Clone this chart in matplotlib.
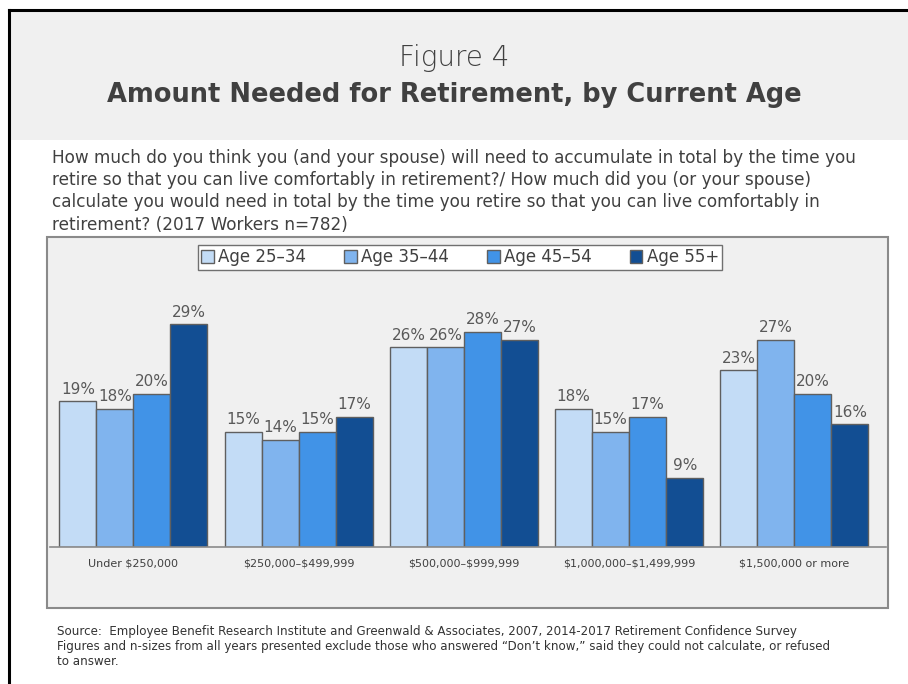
import matplotlib
matplotlib.use("Agg")
import matplotlib.pyplot as plt
from matplotlib.patches import Rectangle
from matplotlib.lines import Line2D
import numpy as np

categories = ["Under $250,000", "$250,000\u2013$499,999", "$500,000\u2013$999,999",
              "$1,000,000\u2013$1,499,999", "$1,500,000 or more"]
series_names = ["Age 25\u201334", "Age 35\u201344", "Age 45\u201354", "Age 55+"]
age_25_34 = [19, 15, 26, 18, 23]
age_35_44 = [18, 14, 26, 15, 27]
age_45_54 = [20, 15, 28, 17, 20]
age_55_plus = [29, 17, 27, 9, 16]
series_values = [age_25_34, age_35_44, age_45_54, age_55_plus]
colors = ["#c3dcf6", "#80b4ee", "#4193e7", "#124e93"]

plt.rcParams['font.family'] = ['DejaVu Sans']
W, H = 908, 684
fig = plt.figure(figsize=(W / 100, H / 100), dpi=100)

def fx(px):
    return px / W

def fy(py):
    return 1 - py / H

# header band
fig.patches.append(Rectangle((fx(9), fy(140)), 1 - fx(9), fy(10) - fy(140),
                             transform=fig.transFigure, facecolor="#f0f0f0",
                             edgecolor="none", zorder=-2))
# black border top and left
fig.lines.append(Line2D([fx(9), 1], [fy(10), fy(10)], transform=fig.transFigure,
                        color="black", lw=2.2, zorder=-1))
fig.lines.append(Line2D([fx(9), fx(9)], [fy(10), 0], transform=fig.transFigure,
                        color="black", lw=2.2, zorder=-1))

fig.text(0.5, fy(58), "Figure 4", ha="center", va="center", fontsize=20,
         color="#404040", fontweight="light")
fig.text(0.5, fy(95), "Amount Needed for Retirement, by Current Age", ha="center",
         va="center", fontsize=18.5, color="#404040", fontweight="bold")

question = ("How much do you think you (and your spouse) will need to accumulate in total by the time you\n"
            "retire so that you can live comfortably in retirement?/ How much did you (or your spouse)\n"
            "calculate you would need in total by the time you retire so that you can live comfortably in\n"
            "retirement? (2017 Workers n=782)")
fig.text(fx(52), fy(149), question, ha="left", va="top", fontsize=12.2,
         color="#404040", linespacing=1.30)

# chart box
fig.patches.append(Rectangle((fx(47), fy(608)), fx(888) - fx(47), fy(237) - fy(608),
                             transform=fig.transFigure, facecolor="#f0f0f0",
                             edgecolor="#8a8a8a", lw=1.5, zorder=-2))

# axes
ax_left, ax_right = 50, 886
ax_bottom, ax_top = 547, 240
ax = fig.add_axes([fx(ax_left), fy(ax_bottom), fx(ax_right) - fx(ax_left),
                   fy(ax_top) - fy(ax_bottom)])
ax.set_facecolor("none")
x = np.arange(len(categories))
bw = 0.224
for i, (name, vals, c) in enumerate(zip(series_names, series_values, colors)):
    pos = x + (i - 1.5) * bw
    ax.bar(pos, vals, width=bw, color=c, edgecolor="#5f5f5f", linewidth=1.0,
           label=name, zorder=2)
    for p, v in zip(pos, vals):
        ax.text(p, v + 0.6, f"{v}%", ha="center", va="bottom", fontsize=11,
                color="#595959")

ax.set_xlim(-0.505, 4.554)
ax.set_ylim(0, 40)
for s in ["top", "right", "left"]:
    ax.spines[s].set_visible(False)
ax.spines["bottom"].set_color("#8a8a8a")
ax.spines["bottom"].set_linewidth(1.2)
ax.set_yticks([])
ax.set_xticks(x)
ax.set_xticklabels([c.replace("$", r"\$") for c in categories], fontsize=8,
                   color="#404040")
ax.tick_params(axis="x", length=0, pad=8)

leg = ax.legend(loc="upper center",
                bbox_to_anchor=((460 - ax_left) / (ax_right - ax_left),
                                1.0 - 5 / (ax_bottom - ax_top)),
                bbox_transform=ax.transAxes,
                ncol=4, frameon=True, fancybox=False, fontsize=12,
                handlelength=0.75, handleheight=0.75, handletextpad=0.25,
                columnspacing=2.3, borderpad=0.2, borderaxespad=0.0,
                labelcolor="#404040", framealpha=1.0)
leg.get_frame().set_edgecolor("#707070")
leg.get_frame().set_facecolor("white")
leg.get_frame().set_linewidth(1.0)

source = ("Source:  Employee Benefit Research Institute and Greenwald & Associates, 2007, 2014-2017 Retirement Confidence Survey\n"
          "Figures and n-sizes from all years presented exclude those who answered \u201cDon\u2019t know,\u201d said they could not calculate, or refused\n"
          "to answer.")
fig.text(fx(57), fy(625), source, ha="left", va="top", fontsize=8.6,
         color="#333333", linespacing=1.2)

fig.savefig("out.png", dpi=100)
